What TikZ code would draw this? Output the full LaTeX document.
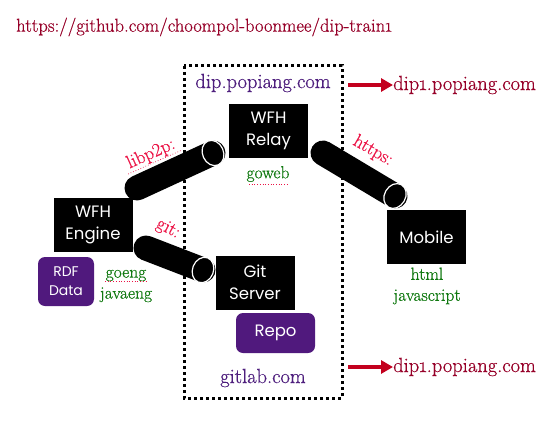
\documentclass[tikz,border=0pt]{standalone}
\usepackage{fontspec}
\setmainfont{Latin Modern Roman}[FakeBold=0.6]
\newfontfamily\boxfont{Poppins}
\usetikzlibrary{arrows.meta}
\definecolor{titlered}{RGB}{150,0,40}
\definecolor{arrowred}{RGB}{195,0,30}
\definecolor{purtext}{RGB}{78,30,125}
\definecolor{purbox}{RGB}{80,25,125}
\definecolor{grn}{RGB}{15,120,15}
\definecolor{lblred}{RGB}{235,20,70}
\begin{document}
\begin{tikzpicture}[x=1pt,y=-1pt,
  blk/.style={fill=black,text=white,font=\boxfont\fontsize{16.5}{22}\selectfont,align=center,inner sep=0pt,minimum width=79,minimum height=54},
  pbox/.style={fill=purbox,text=white,rounded corners=7,align=center,inner sep=0pt},
  gtxt/.style={text=grn,font=\fontsize{17.5}{21}\selectfont,align=center,inner sep=0pt},
  ptxt/.style={text=purtext,font=\fontsize{20.5}{22}\selectfont,inner sep=0pt},
  rtxt/.style={text=titlered,font=\fontsize{20.5}{22}\selectfont,inner sep=0pt,anchor=west},
  lbl/.style={text=lblred,font=\fontsize{18.5}{20}\selectfont,inner sep=0pt},
  pipe/.style={line width=25,line cap=round,black},
  pipecap/.style={fill=black,draw=white,line width=1.2},
  redarr/.style={arrowred,line width=4,-{Triangle[length=12,width=13]}},
  squig/.style={lblred,line width=0.7,dotted}
]
\useasboundingbox (0,0) rectangle (556,425);
% title
\node[text=titlered,font=\fontsize{18.6}{20}\selectfont,anchor=west,inner sep=0pt] (title) at (16,27) {https://github.com/choompol-boonmee/dip-train\oldstylenums{1}};
% dotted box
\draw[line width=3,dash pattern=on 3 off 3] (184,66) rectangle (342,398);
% domain labels
\node[ptxt] (dip) at (263,83) {dip.popiang.com};
\node[ptxt] (gitlab) at (263,378) {gitlab.com};
\node[rtxt] (dip1a) at (393,85) {dip\oldstylenums{1}.popiang.com};
\node[rtxt] (dip1b) at (393,367) {dip\oldstylenums{1}.popiang.com};
\coordinate (a1s) at (348,85);
\coordinate (a2s) at (348,367);
\draw[redarr] (a1s) -- (dip1a.west);
\draw[redarr] (a2s) -- (dip1b.west);
% boxes
\node[blk] (relay) at (268.5,131) {WFH\\Relay};
\node[blk] (engine) at (93,225) {WFH\\Engine};
\node[blk] (git) at (255,282.5) {Git\\Server};
\node[blk] (mobile) at (426.5,237) {Mobile};
\node[pbox,minimum width=56,minimum height=49,font=\boxfont\fontsize{14}{19}\selectfont] (rdf) at (66,281.5) {RDF\\Data};
\node[pbox,minimum width=79,minimum height=40,font=\boxfont\fontsize{16.5}{20}\selectfont] (repo) at (275.5,333) {Repo};
% green labels
\node[gtxt] (goweb) at (268,174) {goweb};
\node[gtxt] (goeng) at (126,286) {goeng\\javaeng};
\node[gtxt] (html) at (427,286) {html\\javascript};
\draw[squig] (249,184) -- (287,184);
\draw[squig] (105,281) -- (147,281);
% pipes
\coordinate (p1s) at (137,188);
\coordinate (p1e) at (213,153);
\coordinate (p2s) at (146,248);
\coordinate (p2e) at (203,270);
\coordinate (p3s) at (323,153);
\coordinate (p3e) at (395,196);
\draw[pipe] (p1s) -- (p1e);
\draw[pipecap,shift={(p1e)},rotate=24] (0,0) ellipse (10.5 and 13);
\draw[pipe] (p2s) -- (p2e);
\draw[pipecap,shift={(p2e)},rotate=-21] (0,0) ellipse (10.5 and 13);
\draw[pipe] (p3s) -- (p3e);
\draw[pipecap,shift={(p3e)},rotate=-30] (0,0) ellipse (10.5 and 13);
% pipe labels
\node[lbl,rotate=24] (l1) at (151,154) {libp2p:};
\draw[squig,rotate around={24:(151,154)}] (122,163) -- (180,163);
\node[lbl,rotate=-28] (l2) at (168,229) {git:};
\node[lbl,rotate=-30] (l3) at (373,151) {https:};
\end{tikzpicture}
\end{document}
